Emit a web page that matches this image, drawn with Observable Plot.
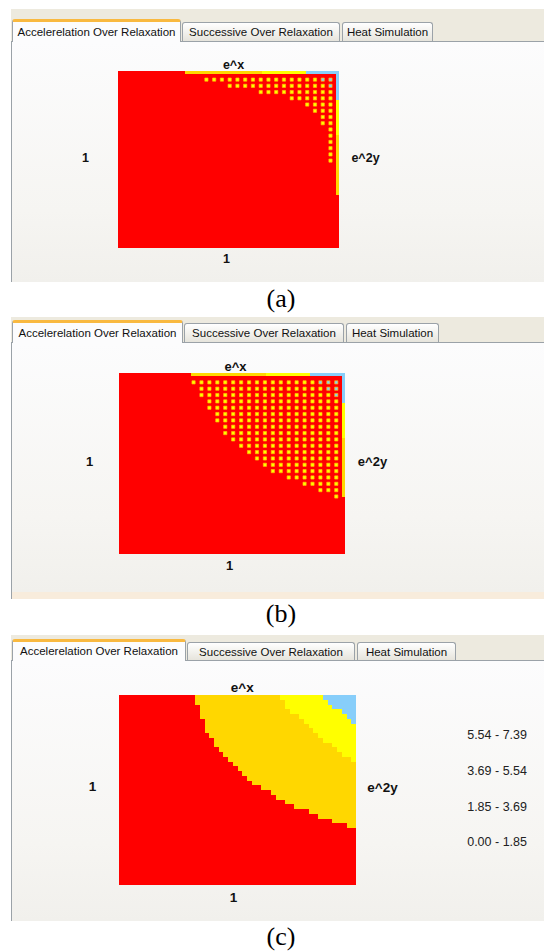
<!DOCTYPE html>
<html><head><meta charset="utf-8">
<script src="https://cdn.jsdelivr.net/npm/d3@7"></script>
<script src="https://cdn.jsdelivr.net/npm/@observablehq/plot@0.6"></script>
<style>
html,body{margin:0;padding:0;background:#fff;}
#page{position:relative;width:544px;height:951px;overflow:hidden;font-family:"Liberation Sans",Arial,sans-serif;}
.band{position:absolute;left:11px;width:533px;background:#EDEADF;}
.content{position:absolute;left:11px;width:533px;box-sizing:border-box;border-left:1px solid #9BA2A8;border-top:1px solid #9BA2A8;background:linear-gradient(#FCFCFD,#F6F5F2 70%,#F1F0EC);}
.bstrip{position:absolute;left:11px;width:533px;box-sizing:border-box;border-left:1px solid #9BA2A8;background:#F8ECDC;}
.tab{position:absolute;box-sizing:border-box;border:1px solid #9BA2A8;border-bottom:none;border-radius:3px 3px 0 0;font-size:11.5px;color:#111;background:linear-gradient(#FFFFFF,#F0EFEA 60%,#E6E4DC);white-space:nowrap;display:flex;align-items:center;justify-content:center;}
.tab.active{background:#FCFCFD;border-top:3px solid #F9B940;z-index:3;}
.cap{position:absolute;left:0;width:562px;text-align:center;font-family:"Liberation Serif","Times New Roman",serif;font-size:26px;line-height:30px;color:#000;}
.plotbox{position:absolute;left:11px;z-index:2;}
</style>
</head><body><div id="page"></div>
<script>
// ---------- data ----------
const tabNames = ["Accelerelation Over Relaxation", "Successive Over Relaxation", "Heat Simulation"];
const captions = ["(a)", "(b)", "(c)"];
const topLabel = "e^x", rightLabel = "e^2y", leftLabel = "1", bottomLabel = "1";
const bandLabels = ["0.00 - 1.85", "1.85 - 3.69", "3.69 - 5.54", "5.54 - 7.39"];
const bandColors = ["#FF0000", "#FFD700", "#FFFF00", "#87CEFA"];

// panel (a): boundary strips (grid units, 28.5 across) and marker dots per row
const topEdgeA = [8.55, 18.5, 24.17];      // where bands 1..3 begin along the top (e^x) edge
const rightEdgeA = [19.95, 10.32, 4.70];   // how far bands 1..3 reach down the right (e^2y) edge
const dotsA = [17, 14, 10, 6, 4, 3, 2, 2, 1, 1, 1, 1, 1, 1];
const blueDotsA = [2, 1, 0, 0, 0, 0, 0, 0, 0, 0, 0, 0, 0, 0];

// panel (b)
const topEdgeB = [9.09, 18.47, 24.03];
const rightEdgeB = [19.44, 10.17, 4.62];
const dotsB = [19, 18, 18, 17, 17, 16, 16, 15, 15, 14, 13, 12, 11, 10, 9, 7, 5, 3, 1];
const blueDotsB = [3, 2, 1, 0, 0, 0, 0, 0, 0, 0, 0, 0, 0, 0, 0, 0, 0, 0, 0];

// panel (c): 50 x 40 grid, first column of each band in each row (top row first)
const goldStartC = [16,16,17,17,17,18,18,18,19,20,20,21,22,23,24,25,26,27,28,30,32,33,35,37,40,42,45,48];
const yellowStartC = [34,35,35,36,38,39,40,41,42,43,45,46,47,49];
const blueStartC = [43,44,45,47,48,49];

// ---------- layout ----------
const layout = [
  {band: 9, tabTop: 19, tabBottom: 41, tabs: [[12,181],[182,340],[342,433]], cBottom: 282,
   plot: [118.3, 70.7, 339.3, 248.3], fs: 12.5,
   ex: [233, 64], one: [85, 157], e2y: [365, 157], bot: [226, 258], cap: 299, strip: null},
  {band: 317, tabTop: 320, tabBottom: 342, tabs: [[12,183],[184,344],[346,439]], cBottom: 592,
   plot: [119.3, 373.3, 345.3, 554], fs: 13,
   ex: [235, 366], one: [89, 461], e2y: [372, 461], bot: [229, 565], cap: 614, strip: [592, 599]},
  {band: 635, tabTop: 639, tabBottom: 660, tabs: [[12,186],[187,355],[357,456]], cBottom: 921,
   plot: [119.3, 695, 356, 885], fs: 13.5,
   ex: [241.7, 687], one: [92, 786], e2y: [382, 787], bot: [233, 897], cap: 937, strip: null}
];

const page = document.getElementById("page");
function div(cls, css, text) {
  const d = document.createElement("div");
  d.className = cls;
  Object.assign(d.style, css);
  if (text != null) d.textContent = text;
  page.appendChild(d);
  return d;
}

function labelMarks(L) {
  const [px1, py1] = L.plot;
  const mk = (s, p) => Plot.text([s], {text: d => d, frameAnchor: "top-left", textAnchor: "middle", lineAnchor: "middle",
    dx: p[0] - px1, dy: p[1] - py1, fontWeight: "bold", fontSize: L.fs, fill: "#111"});
  return [mk(topLabel, L.ex), mk(leftLabel, L.one), mk(rightLabel, L.e2y), mk(bottomLabel, L.bot)];
}

function makePlot(L, gw, gh, marks) {
  const [px1, py1, px2, py2] = L.plot;
  const cTop = L.tabBottom, h = L.cBottom - cTop;
  return Plot.plot({
    width: 533, height: h,
    marginLeft: px1 - 11, marginRight: 544 - px2, marginTop: py1 - cTop, marginBottom: L.cBottom - py2,
    x: {domain: [0, gw], axis: null},
    y: {domain: [0, gh], reverse: true, axis: null},
    color: {type: "ordinal", domain: bandLabels, range: bandColors},
    style: {background: "transparent", fontFamily: "'Liberation Sans', Arial, sans-serif", overflow: "visible"},
    marks: [...marks, ...labelMarks(L)]
  });
}

// red background covering the whole grid, drawn through the same scales as the other cells
function background(gw, gh) {
  return Plot.rect([0], {x1: () => 0, x2: () => gw, y1: () => 0, y2: () => gh, fill: () => bandLabels[0], shapeRendering: "crispEdges"});
}

function dotPanelMarks(topEdge, rightEdge, dots, blues) {
  const G = 28.5;
  const cells = [];
  dots.forEach((n, r) => { for (let k = 0; k < n; k++) cells.push({col: k, row: r, band: k < blues[r] ? 3 : 2}); });
  const bands = [1, 2, 3];
  return [
    background(G, G),
    Plot.rect(bands, {x1: b => topEdge[b - 1], x2: () => G, y1: () => 0, y2: () => 0.45, fill: b => bandLabels[b], shapeRendering: "crispEdges"}),
    Plot.rect(bands, {x1: () => G - 0.4, x2: () => G, y1: () => 0, y2: b => rightEdge[b - 1], fill: b => bandLabels[b], shapeRendering: "crispEdges"}),
    Plot.dot(cells, {x: d => 27.3 - d.col, y: d => 1.35 + d.row, symbol: "square", r: 1.8,
      fill: d => bandLabels[d.band], stroke: "#FFBE00", strokeWidth: 0.7})
  ];
}

function contourMarks() {
  const rows = (starts, band) => starts.map((c, r) => ({c, r, band}));
  const rect = (data) => Plot.rect(data, {x1: d => d.c, x2: () => 50, y1: d => d.r, y2: d => d.r + 1,
    fill: d => bandLabels[d.band], shapeRendering: "crispEdges"});
  const legendOrder = bandLabels.slice().reverse();
  return [
    background(50, 40),
    rect(rows(goldStartC, 1)),
    rect(rows(yellowStartC, 2)),
    rect(rows(blueStartC, 3)),
    Plot.text(legendOrder, {text: d => d, y: (d, i) => 8.42 + i * 7.49, frameAnchor: "right", dx: 110.7,
      textAnchor: "start", lineAnchor: "middle", fontSize: 12.5, fill: "#222"})
  ];
}

layout.forEach((L, p) => {
  div("band", {top: L.band + "px", height: (L.tabBottom - L.band) + "px"});
  div("content", {top: L.tabBottom + "px", height: (L.cBottom - L.tabBottom) + "px"});
  if (L.strip) div("bstrip", {top: L.strip[0] + "px", height: (L.strip[1] - L.strip[0]) + "px"});
  L.tabs.forEach(([x1, x2], i) => {
    const active = i === 0;
    const top = active ? L.tabTop : L.tabTop + 3;
    const t = div("tab" + (active ? " active" : ""), {left: x1 + "px", width: (x2 - x1) + "px", top: top + "px",
      height: (L.tabBottom - top + (active ? 1 : 0)) + "px"}, tabNames[i]);
    if (active) t.style.paddingBottom = "1px";
  });
  let marks;
  if (p === 0) marks = dotPanelMarks(topEdgeA, rightEdgeA, dotsA, blueDotsA);
  else if (p === 1) marks = dotPanelMarks(topEdgeB, rightEdgeB, dotsB, blueDotsB);
  else marks = contourMarks();
  const chart = p === 2 ? makePlot(L, 50, 40, marks) : makePlot(L, 28.5, 28.5, marks);
  const box = div("plotbox", {top: L.tabBottom + "px"});
  box.appendChild(chart);
  div("cap", {top: (L.cap - 15) + "px"}, captions[p]);
});
</script>
</body></html>
